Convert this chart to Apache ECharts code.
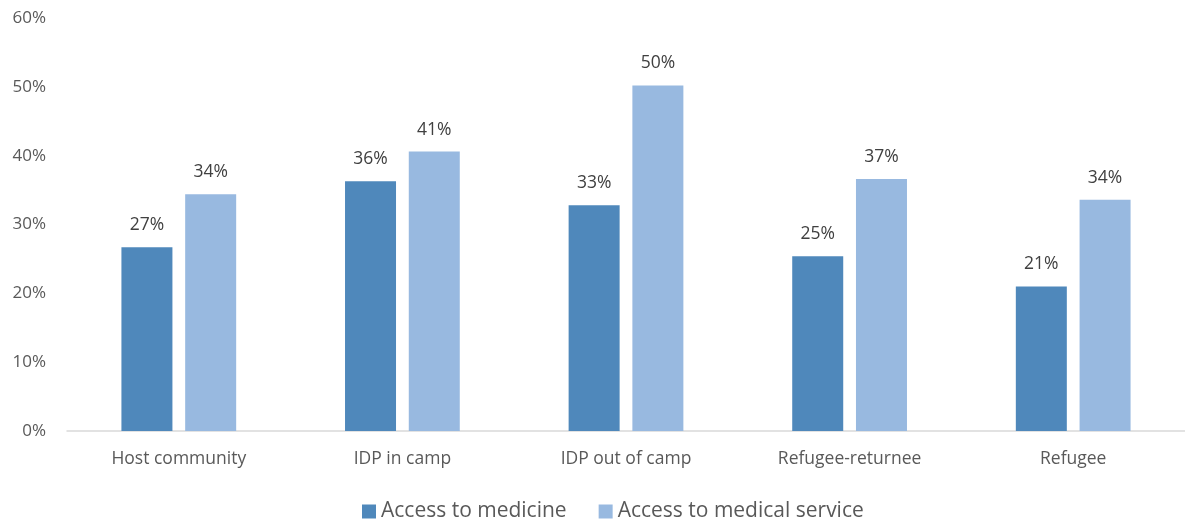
<!DOCTYPE html>
<html>
<head>
<meta charset="utf-8">
<script src="https://cdn.jsdelivr.net/npm/echarts@6/dist/echarts.min.js"></script>
<style>html,body{margin:0;padding:0;background:#fff;}#c{width:1185px;height:522px;}</style>
</head>
<body>
<div id="c"></div>
<script>
const categories = ['Host community', 'IDP in camp', 'IDP out of camp', 'Refugee-returnee', 'Refugee'];
const seriesNames = ['Access to medicine', 'Access to medical service'];
const accessMedicine = [26.7, 36.3, 32.8, 25.4, 21.0];
const accessService = [34.4, 40.6, 50.2, 36.6, 33.6];
const yTicks = [0, 10, 20, 30, 40, 50, 60];

const font = '"Open Sans", "Liberation Sans", sans-serif';
const chart = echarts.init(document.getElementById('c'), null, {renderer: 'canvas'});
const labelCfg = {
  show: true, position: 'top', distance: 13,
  formatter: p => Math.round(p.value) + '%',
  color: '#404040', fontSize: 17.5, fontFamily: font
};
chart.setOption({
  animation: false,
  textStyle: {fontFamily: font},
  grid: {left: 67, right: 0, top: 18, bottom: 91, containLabel: false},
  legend: {
    top: 496, left: 357, itemWidth: 14, itemHeight: 14, itemGap: 32,
    icon: 'rect',
    textStyle: {fontSize: 21, color: '#595959', fontFamily: font},
    data: seriesNames
  },
  xAxis: {
    type: 'category', data: categories,
    axisLine: {lineStyle: {color: '#d9d9d9', width: 1.5}},
    axisTick: {show: false},
    axisLabel: {color: '#595959', fontSize: 17.5, margin: 19, fontFamily: font}
  },
  yAxis: {
    type: 'value', min: yTicks[0], max: yTicks[yTicks.length - 1], interval: 10,
    splitLine: {show: false},
    axisLine: {show: false}, axisTick: {show: false},
    axisLabel: {color: '#595959', fontSize: 17, margin: 21, formatter: v => v + '%', fontFamily: font}
  },
  series: [
    {name: seriesNames[0], type: 'bar', data: accessMedicine, barWidth: 51, barGap: '25%',
     itemStyle: {color: '#4F88BB'}, label: labelCfg},
    {name: seriesNames[1], type: 'bar', data: accessService, barWidth: 51,
     itemStyle: {color: '#98B9E0'}, label: labelCfg}
  ]
});
</script>
</body>
</html>
